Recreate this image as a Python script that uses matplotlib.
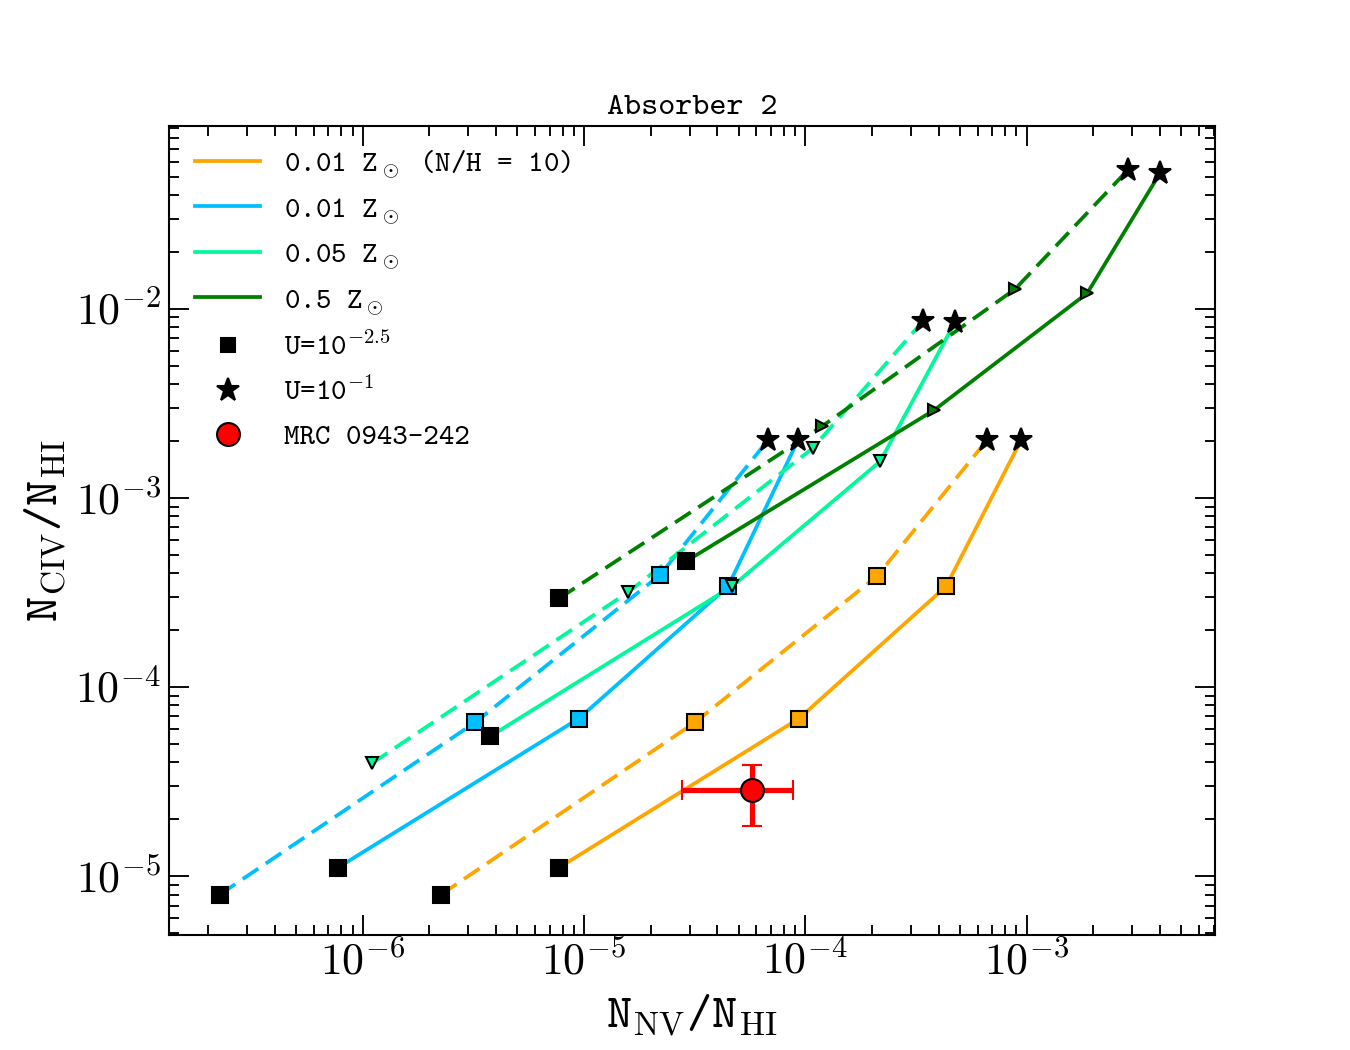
import matplotlib
matplotlib.use("Agg")
import matplotlib.pyplot as plt
from matplotlib.lines import Line2D
from matplotlib.ticker import LogLocator, NullFormatter, FuncFormatter
import numpy as np

plt.rcParams['mathtext.fontset'] = 'cm'
plt.rcParams['font.family'] = ['cmtt10', 'DejaVu Sans Mono']

# ---- data ----
# 0.01 Zsun (N/H = 10), orange
orange_solid_x = [7.71e-6, 9.37e-5, 4.33e-4, 9.44e-4]
orange_solid_y = [1.11e-5, 6.82e-5, 3.41e-4, 2.02e-3]
orange_dash_x = [2.26e-6, 3.17e-5, 2.11e-4, 6.62e-4]
orange_dash_y = [8.0e-6, 6.5e-5, 3.86e-4, 2.02e-3]
# 0.01 Zsun, cyan
cyan_solid_x = [7.73e-7, 9.48e-6, 4.48e-5, 9.27e-5]
cyan_solid_y = [1.11e-5, 6.82e-5, 3.41e-4, 2.02e-3]
cyan_dash_x = [2.26e-7, 3.22e-6, 2.20e-5, 6.78e-5]
cyan_dash_y = [8.0e-6, 6.5e-5, 3.90e-4, 2.02e-3]
# 0.05 Zsun, spring green
sg_solid_x = [3.76e-6, 4.67e-5, 2.18e-4, 4.75e-4]
sg_solid_y = [5.48e-5, 3.41e-4, 1.56e-3, 8.51e-3]
sg_dash_x = [1.10e-6, 1.58e-5, 1.08e-4, 3.40e-4]
sg_dash_y = [3.95e-5, 3.17e-4, 1.83e-3, 8.61e-3]
# 0.5 Zsun, dark green
dg_solid_x = [2.89e-5, 3.82e-4, 1.88e-3, 4.01e-3]
dg_solid_y = [4.62e-4, 2.91e-3, 1.21e-2, 5.22e-2]
dg_dash_x = [7.71e-6, 1.19e-4, 8.87e-4, 2.87e-3]
dg_dash_y = [2.94e-4, 2.39e-3, 1.27e-2, 5.42e-2]

# MRC 0943-242 measurement
obs_x = 5.76e-5
obs_x_lo, obs_x_hi = 2.76e-5, 8.77e-5
obs_y = 2.86e-5
obs_y_lo, obs_y_hi = 1.85e-5, 3.85e-5

labels = [r"0.01 Z$_\odot$ (N/H = 10)", r"0.01 Z$_\odot$", r"0.05 Z$_\odot$", r"0.5 Z$_\odot$"]
colors = ['orange', 'deepskyblue', 'mediumspringgreen', 'green']

fig = plt.figure(figsize=(9, 7), dpi=150)
ax = fig.add_subplot(111)
ax.set_xscale('log')
ax.set_yscale('log')

lw = 1.8
dash = (5.0, 2.4)

series = [
    (orange_solid_x, orange_solid_y, orange_dash_x, orange_dash_y, colors[0], 's'),
    (cyan_solid_x, cyan_solid_y, cyan_dash_x, cyan_dash_y, colors[1], 's'),
    (sg_solid_x, sg_solid_y, sg_dash_x, sg_dash_y, colors[2], 'v'),
    (dg_solid_x, dg_solid_y, dg_dash_x, dg_dash_y, colors[3], '>'),
]

for sx, sy, dx, dy, c, mk in series:
    ax.plot(sx, sy, '-', color=c, lw=lw, zorder=2)
    ax.plot(dx, dy, '--', color=c, lw=lw, dashes=dash, zorder=2)
    ms = 7.5 if mk == 's' else 5.5
    ax.plot(sx[1:3], sy[1:3], ls='none', marker=mk, ms=ms, mfc=c, mec='black', mew=1.0, zorder=3)
    ax.plot(dx[1:3], dy[1:3], ls='none', marker=mk, ms=ms, mfc=c, mec='black', mew=1.0, zorder=3)

# start (square) and end (star) points
for sx, sy, dx, dy, c, mk in series:
    for xs, ys, tri_start in ((sx, sy, False), (dx, dy, mk == 'v')):
        if tri_start:
            ax.plot(xs[0], ys[0], ls='none', marker='v', ms=5.5, mfc=c, mec='black', mew=1.0, zorder=4)
        else:
            ax.plot(xs[0], ys[0], ls='none', marker='s', ms=7.5, color='black', zorder=4)
        ax.plot(xs[-1], ys[-1], ls='none', marker='*', ms=11.5, color='black', zorder=4)

ax.errorbar(obs_x, obs_y,
            xerr=[[obs_x - obs_x_lo], [obs_x_hi - obs_x]],
            yerr=[[obs_y - obs_y_lo], [obs_y_hi - obs_y]],
            fmt='o', color='red', ms=11, mfc='red', mec='black', mew=1.0,
            elinewidth=2.5, capsize=5, capthick=1.2, zorder=6)

ax.set_xlim(1.33e-7, 7.1e-3)
ax.set_ylim(4.92e-6, 9.25e-2)

ax.xaxis.set_major_locator(LogLocator(base=10, numticks=20))
ax.yaxis.set_major_locator(LogLocator(base=10, numticks=20))
ax.xaxis.set_minor_locator(LogLocator(base=10, subs=range(2, 10), numticks=50))
ax.yaxis.set_minor_locator(LogLocator(base=10, subs=range(2, 10), numticks=50))
ax.xaxis.set_minor_formatter(NullFormatter())
ax.yaxis.set_minor_formatter(NullFormatter())
fmt = FuncFormatter(lambda v, p: r"$10^{%d}$" % int(round(np.log10(v))))
ax.xaxis.set_major_formatter(fmt)
ax.yaxis.set_major_formatter(fmt)

ax.tick_params(which='both', direction='in', top=True, right=True, width=0.9, labelsize=21)
ax.tick_params(which='major', length=9.5)
ax.tick_params(which='minor', length=4.8)
for sp in ax.spines.values():
    sp.set_linewidth(1.0)

ax.set_xlabel(r"N$_{\rm NV}$/N$_{\rm HI}$", fontsize=23)
ax.set_ylabel(r"N$_{\rm CIV}$/N$_{\rm HI}$", fontsize=23)
ax.set_title("Absorber 2", fontsize=15.6)

handles = [Line2D([], [], color=c, lw=lw) for c in colors]
handles += [
    Line2D([], [], ls='none', marker='s', ms=7, color='black'),
    Line2D([], [], ls='none', marker='*', ms=11.5, color='black'),
    Line2D([], [], ls='none', marker='o', ms=11, mfc='red', mec='black', mew=1.0),
]
leg_labels = labels + [r"U=10$^{-2.5}$", r"U=10$^{-1}$", "MRC 0943-242"]
ax.legend(handles, leg_labels, loc='upper left', bbox_to_anchor=(0.0, 1.005),
          frameon=False, fontsize=14.2,
          handlelength=2.2, handletextpad=0.8, labelspacing=0.54)

fig.savefig("out.png", dpi=150)
